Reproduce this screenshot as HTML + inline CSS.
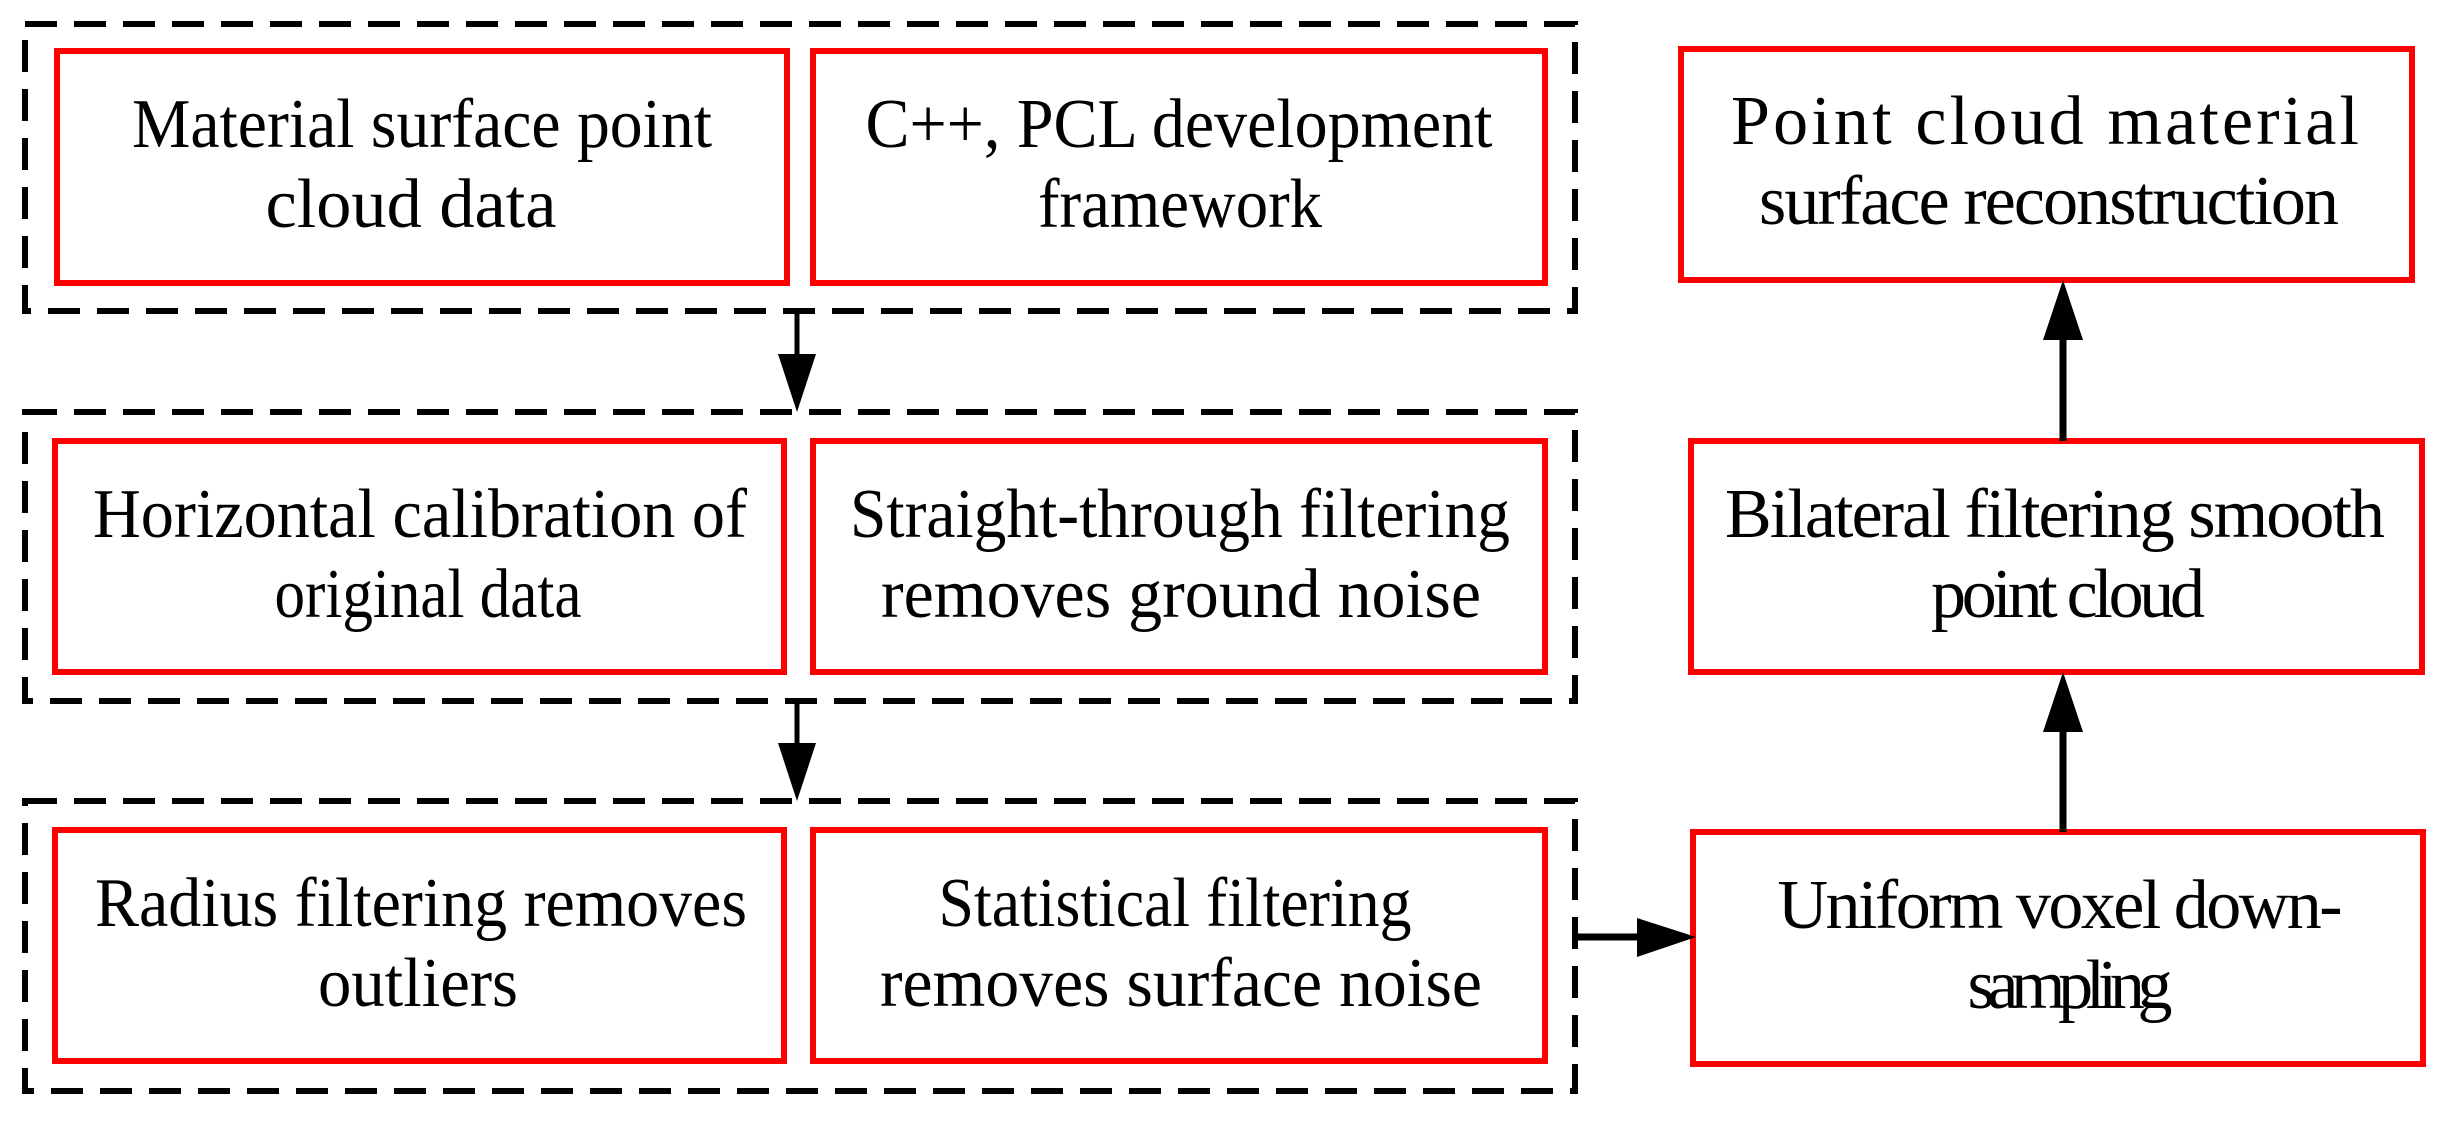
<!DOCTYPE html>
<html><head><meta charset="utf-8"><style>html,body{margin:0;padding:0;background:#fff}svg{display:block}</style></head>
<body>
<svg width="2441" height="1121" viewBox="0 0 2441 1121" xmlns="http://www.w3.org/2000/svg">
<g fill="none" stroke="#000" stroke-width="6" stroke-dasharray="32 17">
<rect x="25" y="24" width="1550" height="287"/>
<rect x="25" y="412" width="1550" height="289"/>
<rect x="25" y="801" width="1550" height="290"/>
</g>
<g fill="none" stroke="#f00" stroke-width="6">
<rect x="57" y="51" width="730" height="232"/>
<rect x="813" y="51" width="732" height="232"/>
<rect x="55" y="441" width="729" height="231"/>
<rect x="813" y="441" width="732" height="231"/>
<rect x="55" y="830" width="729" height="231"/>
<rect x="813" y="830" width="732" height="231"/>
<rect x="1681" y="49" width="731" height="231"/>
<rect x="1691" y="441" width="731" height="231"/>
<rect x="1693" y="832" width="730" height="232"/>
</g>
<g stroke="#000" fill="#000">
<line x1="797" y1="311" x2="797" y2="360" stroke-width="5"/>
<polygon points="778,354 816,354 797,412" stroke="none"/>
<line x1="797" y1="701" x2="797" y2="750" stroke-width="5"/>
<polygon points="778,743 816,743 797,801" stroke="none"/>
<line x1="1575" y1="937" x2="1640" y2="937" stroke-width="7"/>
<polygon points="1637,918 1637,957 1696,937" stroke="none"/>
<line x1="2063" y1="832" x2="2063" y2="725" stroke-width="7"/>
<polygon points="2043,732 2083,732 2063,672" stroke="none"/>
<line x1="2063" y1="441" x2="2063" y2="335" stroke-width="7"/>
<polygon points="2043,340 2083,340 2063,280" stroke="none"/>
</g>
<g font-family="Liberation Serif, serif" font-size="70" fill="#000" text-anchor="middle">
<text x="422" y="147" textLength="580" lengthAdjust="spacingAndGlyphs">Material surface point</text>
<text x="411" y="227" textLength="291" lengthAdjust="spacingAndGlyphs">cloud data</text>
<text x="1179" y="147" textLength="627" lengthAdjust="spacingAndGlyphs">C++, PCL development</text>
<text x="1180" y="227" textLength="284" lengthAdjust="spacingAndGlyphs">framework</text>
<text x="420" y="537" textLength="654" lengthAdjust="spacingAndGlyphs">Horizontal calibration of</text>
<text x="428" y="617" textLength="307" lengthAdjust="spacingAndGlyphs">original data</text>
<text x="1180" y="537" textLength="660" lengthAdjust="spacingAndGlyphs">Straight-through filtering</text>
<text x="1181" y="617" textLength="600" lengthAdjust="spacingAndGlyphs">removes ground noise</text>
<text x="421" y="926" textLength="652" lengthAdjust="spacingAndGlyphs">Radius filtering removes</text>
<text x="418" y="1006" textLength="200" lengthAdjust="spacingAndGlyphs">outliers</text>
<text x="1175" y="926" textLength="473" lengthAdjust="spacingAndGlyphs">Statistical filtering</text>
<text x="1181" y="1006" textLength="602" lengthAdjust="spacingAndGlyphs">removes surface noise</text>
<text x="2045" y="144" textLength="628">Point cloud material</text>
<text x="2049" y="224" textLength="580">surface reconstruction</text>
<text x="2055" y="537" textLength="660">Bilateral filtering smooth</text>
<text x="2068" y="617" textLength="274">point cloud</text>
<text x="2060" y="928" textLength="565">Uniform voxel down-</text>
<text x="2070" y="1008" textLength="205">sampling</text>
</g>
</svg>
</body></html>
